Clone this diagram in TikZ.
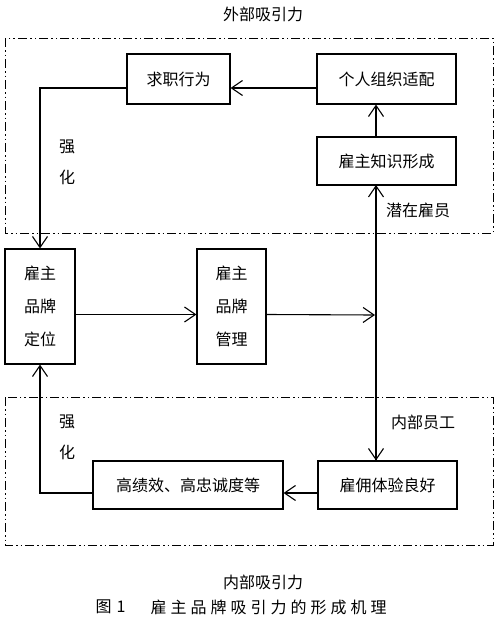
\documentclass[tikz,border=0pt]{standalone}
\usepackage{fontspec}
\newfontfamily\cjk{Noto Sans CJK SC}
\usetikzlibrary{arrows.meta}
\begin{document}
\begin{tikzpicture}[x=1pt,y=-1pt,
  line width=1.1pt,
  box/.style={draw,inner sep=0pt,align=center,font=\cjk\fontsize{16}{33}\selectfont},
  lbl/.style={inner sep=0pt,font=\cjk\fontsize{16}{20}\selectfont},
  arr/.style={-{Straight Barb[length=11pt,width=15pt]}},
  dashdot/.style={line width=1pt,dash pattern=on 9pt off 3pt on 1.5pt off 3pt on 1.5pt off 3pt}]
\useasboundingbox[fill=white] (0,0) rectangle (500,629);
% dashed areas
\draw[dashdot] (5,38) rectangle (493,233);
\draw[dashdot] (5,397) rectangle (493,545);
% boxes
\node[box,minimum width=103pt,minimum height=50pt] (qz) at (178.5,79) {求职行为};
\node[box,minimum width=139pt,minimum height=50pt] (fit) at (386.5,79) {个人组织适配};
\node[box,minimum width=139pt,minimum height=48pt] (know) at (386.5,161) {雇主知识形成};
\node[box,minimum width=70pt,minimum height=115pt] (pos) at (40,306.5) {雇主\\品牌\\定位};
\node[box,minimum width=69pt,minimum height=115pt] (mgmt) at (231.5,306.5) {雇主\\品牌\\管理};
\node[box,minimum width=190pt,minimum height=48pt] (perf) at (188,485) {高绩效、高忠诚度等};
\node[box,minimum width=139pt,minimum height=48pt] (exp) at (387.5,485) {雇佣体验良好};
% coordinates
\coordinate (vtop) at (376,185);
\coordinate (vbot) at (376,461);
\coordinate (vmid) at (376,315);
\coordinate (lt) at (40,88);
\coordinate (lb) at (40,493);
% connectors
\draw[arr] ([yshift=-9pt]fit.west) -- ([yshift=-9pt]qz.east);
\draw[arr] (know.north -| vtop) -- (fit.south -| vtop);
\draw[arr] ([yshift=-9pt]qz.west) -- (lt) -- (pos.north);
\draw[arr] ([yshift=-8pt]pos.east) -- ([yshift=-8pt]mgmt.west);
\draw[arr] ([yshift=-8pt]mgmt.east) -- ([xshift=-1pt]vmid);
\draw[arr] (vbot) -- (vtop);
\draw[arr] (vtop) -- (exp.north -| vbot);
\draw[arr] ([yshift=-8pt]exp.west) -- ([yshift=-8pt]perf.east);
\draw[arr] ([yshift=-8pt]perf.west) -- (lb) -- (pos.south);
% labels
\node[lbl] (t1) at (263,14) {外部吸引力};
\node[lbl] (t2) at (418,210) {潜在雇员};
\node[lbl] (t3) at (423,422) {内部员工};
\node[lbl] (q1) at (67,147) {强};
\node[lbl] (h1) at (67,177) {化};
\node[lbl] (q2) at (67,422) {强};
\node[lbl] (h2) at (67,452) {化};
\node[lbl] (t4) at (263,582) {内部吸引力};
\node[lbl,anchor=west] (c1) at (95,607) {图\hspace{5pt}1};
\node[lbl,anchor=west] (c2) at (150,607) {雇\hspace{4pt}主\hspace{4pt}品\hspace{4pt}牌\hspace{4pt}吸\hspace{4pt}引\hspace{4pt}力\hspace{4pt}的\hspace{4pt}形\hspace{4pt}成\hspace{4pt}机\hspace{4pt}理};
\end{tikzpicture}
\end{document}
